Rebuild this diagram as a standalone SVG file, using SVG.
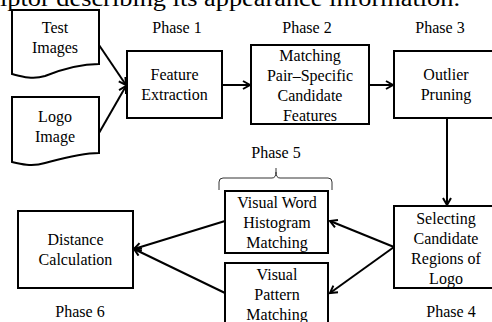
<svg xmlns="http://www.w3.org/2000/svg" width="492" height="322" viewBox="0 0 492 322">
<defs>
<style>
text{font-family:"Liberation Serif","Times New Roman",serif;font-size:16px;fill:#000;text-anchor:middle}
.box{fill:#fff;stroke:#000;stroke-width:2}
.conn{fill:none;stroke:#000;stroke-width:2}
.brace{fill:none;stroke:#000;stroke-width:0.8}
</style>
<marker id="ah" markerWidth="10" markerHeight="10" refX="8" refY="5" orient="auto" markerUnits="userSpaceOnUse">
<path d="M1,1 L8,5 L1,9" fill="none" stroke="#000" stroke-width="2"/>
</marker>
</defs>
<rect width="492" height="322" fill="#fff"/>
<text x="0" y="6" style="font-size:24px;text-anchor:start" textLength="460" lengthAdjust="spacingAndGlyphs">iptor describing its appearance information.</text>

<g id="connectors">
<line class="conn" x1="99" y1="45" x2="126" y2="85" marker-end="url(#ah)"/>
<line class="conn" x1="99" y1="133" x2="126" y2="86" marker-end="url(#ah)"/>
<line class="conn" x1="222" y1="85" x2="250" y2="85" marker-end="url(#ah)"/>
<line class="conn" x1="369" y1="85" x2="393" y2="85" marker-end="url(#ah)"/>
<line class="conn" x1="447" y1="118" x2="447" y2="205" marker-end="url(#ah)"/>
<line class="conn" x1="394" y1="247" x2="330" y2="221" marker-end="url(#ah)"/>
<line class="conn" x1="394" y1="247" x2="330" y2="293" marker-end="url(#ah)"/>
<line class="conn" x1="225" y1="221" x2="134" y2="249" marker-end="url(#ah)"/>
<line class="conn" x1="225" y1="293" x2="134" y2="249" marker-end="url(#ah)"/>
</g>

<g id="test-images">
<path class="box" d="M12,10 H99 V64 C80,64 60,70 45,76 C32,80 20,76 12,74 Z"/>
<text x="55" y="33">Test</text>
<text x="55" y="53">Images</text>
</g>
<g id="logo-image">
<path class="box" d="M12,97 H99 V153 C80,153 60,159 45,163 C32,167 20,164 12,162 Z"/>
<text x="55" y="122">Logo</text>
<text x="55" y="142">Image</text>
</g>
<g id="feature-extraction">
<rect class="box" x="127" y="51" width="95" height="67"/>
<text x="174.5" y="80">Feature</text>
<text x="174.5" y="100">Extraction</text>
<text x="177" y="33">Phase 1</text>
</g>
<g id="matching">
<rect class="box" x="251" y="45" width="118" height="79"/>
<text x="310" y="61">Matching</text>
<text x="310" y="81">Pair–Specific</text>
<text x="310" y="101">Candidate</text>
<text x="310" y="121">Features</text>
<text x="307" y="33">Phase 2</text>
</g>
<g id="outlier-pruning">
<rect class="box" x="394" y="51" width="110" height="67"/>
<text x="446" y="80">Outlier</text>
<text x="446" y="100">Pruning</text>
<text x="440" y="33">Phase 3</text>
</g>
<g id="selecting">
<rect class="box" x="394" y="206" width="110" height="82"/>
<text x="446" y="224">Selecting</text>
<text x="446" y="244">Candidate</text>
<text x="446" y="264">Regions of</text>
<text x="446" y="284">Logo</text>
<text x="451" y="317">Phase 4</text>
</g>
<g id="visual-word">
<rect class="box" x="225" y="191" width="103" height="62"/>
<text x="277" y="208">Visual Word</text>
<text x="277" y="228">Histogram</text>
<text x="277" y="248">Matching</text>
</g>
<g id="visual-pattern">
<rect class="box" x="225" y="263" width="103" height="70"/>
<text x="277" y="280">Visual</text>
<text x="277" y="300">Pattern</text>
<text x="277" y="320">Matching</text>
</g>
<g id="phase5">
<path class="brace" d="M219,190 V182 Q219,178 223,178 H272 Q276,178 276,172 V168 M276,172 Q276,178 280,178 H328 Q332,178 332,182 V190"/>
<text x="276" y="158">Phase 5</text>
</g>
<g id="distance">
<rect class="box" x="18" y="211" width="115" height="77"/>
<text x="75.5" y="245">Distance</text>
<text x="75.5" y="265">Calculation</text>
<text x="80" y="317">Phase 6</text>
</g>
</svg>
